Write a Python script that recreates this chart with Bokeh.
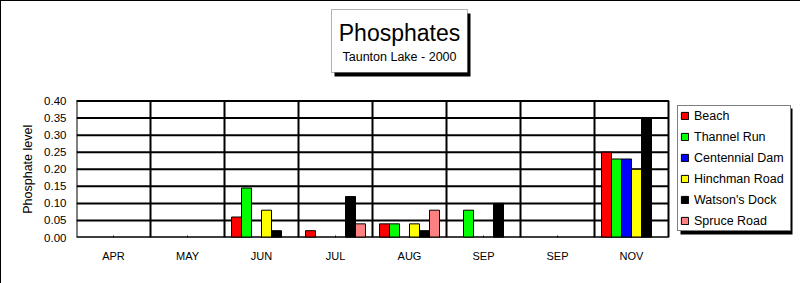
import math
from bokeh.plotting import figure
from bokeh.models import (ColumnDataSource, FixedTicker, Legend, LegendItem, Label,
                          BoxAnnotation, PrintfTickFormatter, Range1d, CustomJSTickFormatter)
from bokeh.embed import file_html
from bokeh.resources import INLINE
from bokeh.transform import dodge

# ---------------- data ----------------
months = ["APR", "MAY", "JUN", "JUL", "AUG", "SEP", "SEP", "NOV"]
series_names = ["Beach", "Thannel Run", "Centennial Dam", "Hinchman Road", "Watson's Dock", "Spruce Road"]
beach          = [None, None, 0.06,  0.02, 0.04, None, None, 0.25]
thannel_run    = [None, None, 0.145, None, 0.04, 0.08, None, 0.23]
centennial_dam = [None, None, None,  None, None, None, None, 0.23]
hinchman_road  = [None, None, 0.08,  None, 0.04, None, None, 0.20]
watsons_dock   = [None, None, 0.02,  0.12, 0.02, 0.10, None, 0.35]
spruce_road    = [None, None, None,  0.04, 0.08, None, None, None]
series_values = [beach, thannel_run, centennial_dam, hinchman_road, watsons_dock, spruce_road]
series_colors = ["#FF0000", "#00FF00", "#0000FF", "#FFFF00", "#000000", "#FF8080"]
y_ticks = [0.00, 0.05, 0.10, 0.15, 0.20, 0.25, 0.30, 0.35, 0.40]
title_text = "Phosphates"
subtitle_text = "Taunton Lake - 2000"
y_label = "Phosphate level"

FONT = "Liberation Sans"

# ---------------- layout constants (pixels) ----------------
LEFT, BOTTOM = 76, 46                 # space for y axis / x axis
DATA_W, DATA_H = 592, 136.5           # plotting area of the bars
W, H = 800, 283
FRAME_W, FRAME_H = W - LEFT, H - BOTTOM
n_cat = len(months)
y_max = y_ticks[-1]

p = figure(width=W, height=H, output_backend="svg", toolbar_location=None,
           x_range=Range1d(0, n_cat * FRAME_W / DATA_W),
           y_range=Range1d(0, y_max * FRAME_H / DATA_H),
           min_border=0, min_border_left=LEFT, min_border_bottom=BOTTOM,
           styles={"background-color": "white", "box-shadow": "inset 1px 1px 0 0 black"})
p.title.visible = False
p.background_fill_color = None
p.border_fill_color = None
p.outline_line_color = None
p.xgrid.visible = False
p.ygrid.visible = False

# x axis
p.xaxis.ticker = FixedTicker(ticks=[i + 0.5 for i in range(n_cat)])
p.xaxis.formatter = CustomJSTickFormatter(args=dict(months=months),
                                          code="return months[Math.floor(tick)];")
p.xaxis.bounds = (0, n_cat)
p.xaxis.major_tick_in = 2
p.xaxis.major_tick_out = 0
p.xaxis.major_tick_line_color = "black"
p.xaxis.minor_tick_line_color = None
p.xaxis.axis_line_color = None
p.xaxis.major_label_text_font = FONT
p.xaxis.major_label_text_font_size = "11px"
p.xaxis.major_label_text_color = "black"
p.xaxis.major_label_standoff = 12

# y axis
p.yaxis.ticker = FixedTicker(ticks=y_ticks)
p.yaxis.formatter = PrintfTickFormatter(format="%.2f")
p.yaxis.bounds = (0, y_max)
p.yaxis.major_tick_in = 0
p.yaxis.major_tick_out = 0
p.yaxis.minor_tick_line_color = None
p.yaxis.axis_line_color = None
p.yaxis.major_label_text_font = FONT
p.yaxis.major_label_text_font_size = "11.5px"
p.yaxis.major_label_text_color = "black"
p.yaxis.major_label_standoff = 10

# y axis title, centred on the data area (canvas pixels)
p.add_layout(Label(x=27.5, y=100.5 + DATA_H / 2, x_units="canvas", y_units="canvas",
                   text=y_label, angle=90, angle_units="deg",
                   text_font=FONT, text_font_size="12.5px", text_align="center",
                   text_baseline="middle", text_color="black"), "left")

# grid lines (limited to the data area)
hgrid = ColumnDataSource(dict(y=y_ticks, x0=[0] * len(y_ticks), x1=[n_cat] * len(y_ticks)))
p.segment(x0="x0", x1="x1", y0="y", y1="y", source=hgrid, line_color="black", line_width=2)
bounds = list(range(1, n_cat))
vgrid = ColumnDataSource(dict(x=bounds, y0=[0] * len(bounds), y1=[y_max] * len(bounds)))
p.segment(x0="x", x1="x", y0="y0", y1="y1", source=vgrid, line_color="black", line_width=2)

# bars
n = len(series_names)
bar_w = 10.0 / 74.0
items = []
for i, (name, vals, col) in enumerate(zip(series_names, series_values, series_colors)):
    xs = [k + 0.5 for k, v in enumerate(vals) if v is not None]
    tops = [v for v in vals if v is not None]
    src = ColumnDataSource(dict(x=xs, top=tops))
    r = p.vbar(x=dodge("x", (i - (n - 1) / 2) * bar_w, range=p.x_range), top="top", bottom=0,
               width=bar_w, source=src, fill_color=col, line_color="black", line_width=1)
    items.append(LegendItem(label=name, renderers=[r]))

# data area border
p.quad(left=[0], right=[n_cat], bottom=[0], top=[y_max], fill_color=None,
       line_color="black", line_width=2)

def sbox(l, t, r, b, **kw):
    # box given in canvas pixels (t/b from top), converted to frame screen units
    return BoxAnnotation(left=l - LEFT, right=r - LEFT, top=FRAME_H - t, bottom=FRAME_H - b,
                         left_units="screen", right_units="screen",
                         top_units="screen", bottom_units="screen", **kw)

# title box with drop shadow
p.add_layout(sbox(334, 13, 470, 76, fill_color="black", fill_alpha=1, line_color=None))
p.add_layout(sbox(331, 9, 467, 72, fill_color="white", fill_alpha=1,
                  line_color="black", line_width=1))
p.add_layout(Label(x=399 - LEFT, y=FRAME_H - 32.7, x_units="screen", y_units="screen",
                   text=title_text, text_font=FONT, text_font_size="23px",
                   text_align="center", text_baseline="middle", text_color="black"))
p.add_layout(Label(x=399 - LEFT, y=FRAME_H - 56.7, x_units="screen", y_units="screen",
                   text=subtitle_text, text_font=FONT, text_font_size="12.5px",
                   text_align="center", text_baseline="middle", text_color="black"))

# legend with drop shadow
p.add_layout(sbox(680, 108, 792, 234, fill_color="black", fill_alpha=1, line_color=None))
legend = Legend(items=items, location=(677 - LEFT, FRAME_H - 231), padding=2, spacing=6, margin=0,
                glyph_width=9, glyph_height=9, label_standoff=5, label_width=94, label_height=15,
                label_text_font=FONT, label_text_font_size="12.5px", label_text_color="black",
                border_line_color="black", border_line_width=1,
                background_fill_color="white", background_fill_alpha=1)
p.add_layout(legend)

open("out.html", "w").write(file_html(p, INLINE))
